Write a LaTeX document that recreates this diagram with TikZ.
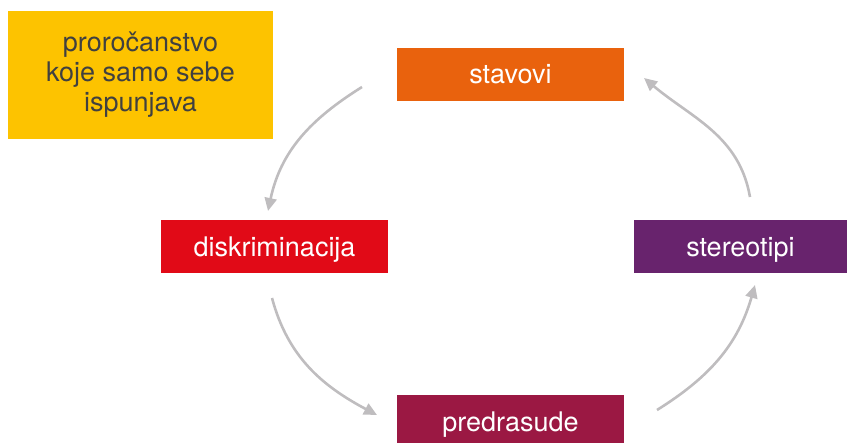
\documentclass[tikz,border=0pt]{standalone}
\usepackage{fontspec}
\setmainfont{TeX Gyre Heros}
\usetikzlibrary{arrows.meta}
\definecolor{noteyellow}{HTML}{FDC300}
\definecolor{notetext}{HTML}{404040}
\definecolor{stavorange}{HTML}{E9620D}
\definecolor{diskred}{HTML}{E10A17}
\definecolor{stereopurple}{HTML}{68236D}
\definecolor{predcrimson}{HTML}{9B1843}
\definecolor{arrowgray}{HTML}{BFBDBF}
\tikzset{
  cyclebox/.style={minimum width=227pt, minimum height=53pt, inner sep=0pt,
    text=white, font=\fontsize{27}{30}\selectfont, text height=19pt, text depth=0pt},
  cyclearrow/.style={draw=arrowgray, line width=2.6pt,
    -{Triangle[length=13pt,width=12pt]}}
}
\begin{document}
\begin{tikzpicture}[x=1pt,y=1pt]
% Canvas
\useasboundingbox (0,0) rectangle (848,442);
\clip (0,0) rectangle (848,442);
% Note box
\node[fill=noteyellow, minimum width=265pt, minimum height=128pt, inner sep=0pt,
  text=notetext, align=center, font=\fontsize{27}{30}\selectfont]
  (prophecy) at (140.5,367) {proročanstvo\\koje samo sebe\\ispunjava};
% The four stages of the cycle
\node[cyclebox, fill=stavorange] (stavovi) at (510.5,367.5) {stavovi};
\node[cyclebox, fill=diskred] (diskriminacija) at (274.5,195) {diskriminacija};
\node[cyclebox, fill=stereopurple, minimum width=213pt] (stereotipi) at (740.5,195) {stereotipi};
\node[cyclebox, fill=predcrimson] (predrasude) at (510.5,20.5) {predrasude};
% Arrow ends
\coordinate (s1) at (362,355);
\coordinate (e1) at (268,231);
\coordinate (s2) at (272,144);
\coordinate (e2) at (377,27);
\coordinate (s3) at (657,32);
\coordinate (e3) at (755,157);
\coordinate (s4) at (750,245);
\coordinate (e4) at (644,364);
% Draw the arrows
\draw[cyclearrow] (s1) to[out=212,in=78] (e1);
\draw[cyclearrow] (s2) to[out=285,in=152] (e2);
\draw[cyclearrow] (s3) to[out=32,in=254] (e3);
\draw[cyclearrow] (s4) to[out=100,in=320] (e4);
\end{tikzpicture}
\end{document}
